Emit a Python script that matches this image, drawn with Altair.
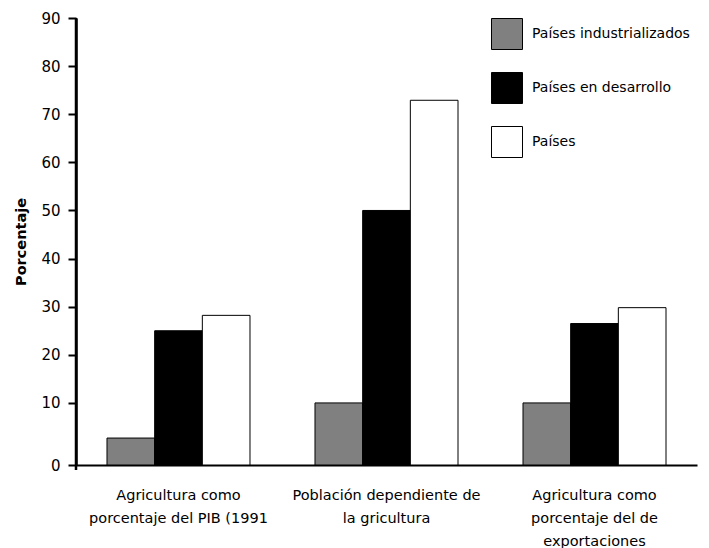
import altair as alt
import pandas as pd

categories = [
    "Agricultura como|porcentaje del PIB (1991",
    "Población dependiente de|la gricultura",
    "Agricultura como|porcentaje del  de|exportaciones",
]
series = ["Países industrializados", "Países en desarrollo", "Países"]
industrializados = [2.7, 10.0, 10.0]
en_desarrollo = [25.0, 50.0, 26.5]
paises = [28.2, 72.9, 29.8]
baseline = -2.9

rows = []
for i, c in enumerate(categories):
    for s, vals in zip(series, [industrializados, en_desarrollo, paises]):
        rows.append({"cat": c, "serie": s, "valor": vals[i], "base": baseline})
df = pd.DataFrame(rows)

FONT = "DejaVu Sans"

bars = alt.Chart(df).mark_bar(stroke="black", strokeWidth=1).encode(
    x=alt.X("cat:N", sort=categories,
            scale=alt.Scale(paddingInner=0.3125, paddingOuter=0.149),
            axis=alt.Axis(title=None, labelAngle=0, ticks=False, domain=True,
                          domainColor="black", domainWidth=2,
                          labelExpr="split(datum.label, '|')",
                          labelLineHeight=23, labelPadding=23, labelLimit=400,
                          labelFontSize=14.5, labelColor="black", labelFont=FONT,
                          labelBaseline="top")),
    xOffset=alt.XOffset("serie:N", sort=series),
    y=alt.Y("valor:Q",
            scale=alt.Scale(domain=[baseline, 90], nice=False, zero=False),
            axis=alt.Axis(title="Porcentaje", titleFont=FONT, titleFontSize=14.5,
                          titleFontWeight="bold", titleColor="black", titlePadding=12,
                          values=[baseline, 10, 20, 30, 40, 50, 60, 70, 80, 90],
                          labelExpr="datum.value < 0 ? '0' : datum.label",
                          grid=False, domainColor="black", domainWidth=2.5,
                          tickColor="black", tickWidth=2, tickSize=8,
                          labelPadding=8, labelFontSize=15, labelColor="black",
                          labelFont=FONT)),
    y2="base:Q",
    fill=alt.Fill("serie:N", sort=series,
                  scale=alt.Scale(domain=series, range=["#808080", "#000000", "#ffffff"]),
                  legend=alt.Legend(title=None, orient="none", legendX=415, legendY=0,
                                    symbolType="square", symbolSize=961,
                                    symbolStrokeColor="black", symbolStrokeWidth=1,
                                    symbolOpacity=1, labelLimit=400,
                                    labelFont=FONT, labelFontSize=14,
                                    labelColor="black", labelOffset=9,
                                    rowPadding=18, padding=0)),
)

yline = alt.Chart(pd.DataFrame({"a": [0]})).mark_rule(color="black", strokeWidth=2.5).encode(
    x=alt.value(0), y=alt.value(0), y2=alt.value(452)
)

chart = alt.layer(bars, yline).properties(
    width=621, height=447,
    autosize=alt.AutoSizeParams(type="none"),
    padding={"left": 68, "top": 10, "right": 4, "bottom": 91},
).configure_view(stroke=None)

chart.save("out.html", embed_options={"renderer": "svg", "actions": False})
